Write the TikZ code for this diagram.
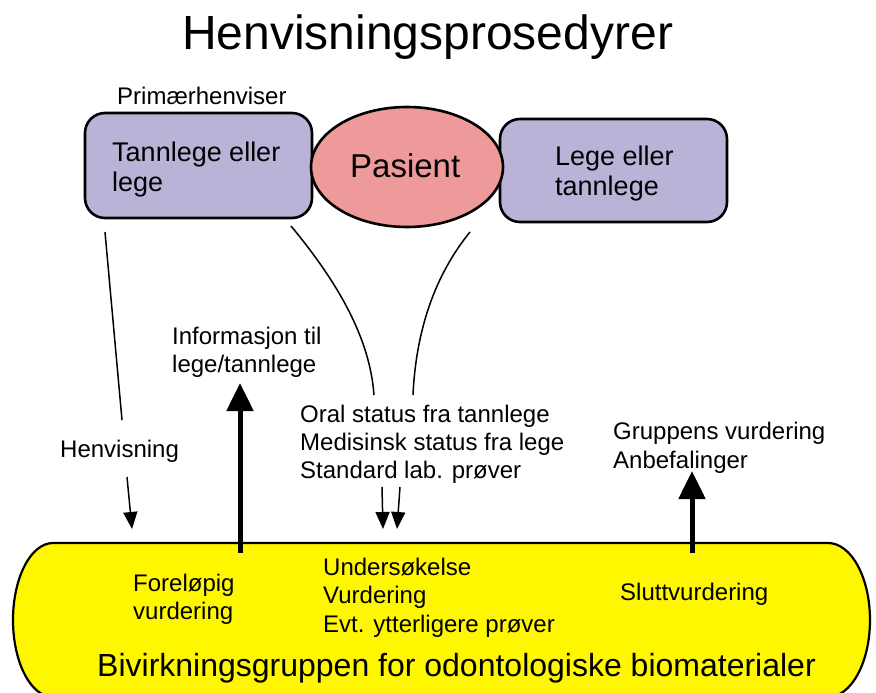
\documentclass[tikz,border=0pt]{standalone}
\usepackage{fontspec}
\setmainfont{Liberation Sans}
\usetikzlibrary{arrows.meta}
\definecolor{boxlav}{HTML}{BBB2D7}
\definecolor{pasred}{HTML}{EE9A9A}
\definecolor{grpyel}{HTML}{FFF700}
\begin{document}
\begin{tikzpicture}[x=1pt,y=-1pt,
  txt/.style={inner sep=0pt,anchor=base west,align=left},
  body/.style={font=\fontsize{24}{28.5}\selectfont},
  box/.style={draw=black,line width=2.6pt,fill=boxlav,rounded corners=20pt},
  thin/.style={line width=1.5pt,-{Triangle[length=17pt,width=14pt]}},
  thick/.style={line width=5pt,-{Triangle[length=28pt,width=26pt]}},
  plain/.style={line width=1.5pt}]
\useasboundingbox (0,0) rectangle (876,693);
\draw[line width=2.2pt,fill=grpyel]
  (53,543) arc[start angle=270,end angle=180,x radius=40,y radius=77]
  arc[start angle=180,end angle=90,x radius=40,y radius=77]
  -- (828,697)
  arc[start angle=90,end angle=0,x radius=42,y radius=77]
  arc[start angle=0,end angle=-90,x radius=42,y radius=77]
  -- cycle;
\node[txt,font=\fontsize{48}{52}\selectfont] (title) at (182,50) {Henvisningsprosedyrer};
\node[txt,font=\fontsize{24}{28}\selectfont] (prim) at (117,104) {Primærhenviser};
\draw[box] (85,113) rectangle (312,218);
\node[txt,font=\fontsize{27}{30}\selectfont] (lbox) at (112,191) {Tannlege eller\\lege};
\draw[box] (500,119) rectangle (727,222);
\node[txt,font=\fontsize{27}{30}\selectfont] (rbox) at (555,195) {Lege eller\\tannlege};
\draw[line width=2.6pt,fill=pasred] (407,167) ellipse [x radius=96, y radius=60];
\node[txt,font=\fontsize{33}{36}\selectfont] (pas) at (350,177) {Pasient};
% connectors
\coordinate (h1) at (105,232);
\coordinate (h2) at (122,420);
\coordinate (h3) at (127,477);
\coordinate (h4) at (132,529);
\draw[plain] (h1) -- (h2);
\node[txt,body] (henv) at (60,457) {Henvisning};
\draw[thin] (h3) -- (h4);
\coordinate (c1) at (291,226);
\coordinate (c2) at (374,395);
\draw[plain] (c1) .. controls (340,285) and (370,340) .. (c2);
\coordinate (d1) at (470,232);
\coordinate (d2) at (413,395);
\draw[plain] (d1) .. controls (435,275) and (416,330) .. (d2);
\node[txt,font=\fontsize{24}{28}\selectfont] (info) at (172,372) {Informasjon til\\lege/tannlege};
\coordinate (i1) at (240,553);
\coordinate (i2) at (240,383);
\draw[thick] (i1) -- (i2);
\node[txt,font=\fontsize{24}{28}\selectfont] (oral) at (300,478) {Oral status fra tannlege\\Medisinsk status fra lege\\Standard lab. prøver};
\coordinate (a1) at (382,487);
\coordinate (a2) at (383,529);
\coordinate (b1) at (400,487);
\coordinate (b2) at (397,529);
\draw[thin] (a1) -- (a2);
\draw[thin] (b1) -- (b2);
\node[txt,font=\fontsize{24}{29}\selectfont] (grp) at (613,468) {Gruppens vurdering\\Anbefalinger};
\coordinate (g1) at (692,553);
\coordinate (g2) at (692,471);
\draw[thick] (g1) -- (g2);
% yellow texts
\node[txt,font=\fontsize{24}{27.5}\selectfont] (forel) at (133,619) {Foreløpig\\vurdering};
\node[txt,font=\fontsize{24}{28.5}\selectfont] (unders) at (323,632) {Undersøkelse\\Vurdering\\Evt. ytterligere prøver};
\node[txt,body] (slutt) at (620,600) {Sluttvurdering};
\node[txt,font=\fontsize{32}{36}\selectfont] (bivirk) at (97,676) {Bivirkningsgruppen for odontologiske biomaterialer};
\end{tikzpicture}
\end{document}
